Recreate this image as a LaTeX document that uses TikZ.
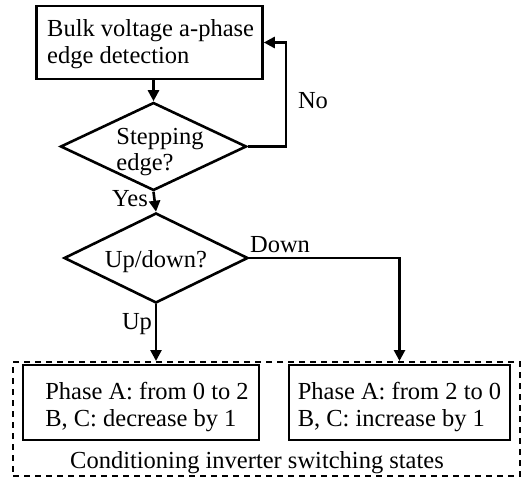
\documentclass[tikz,border=0pt]{standalone}
\usepackage{fontspec}
\setmainfont{Liberation Serif}
\usetikzlibrary{arrows.meta,shapes.geometric}
\begin{document}
\begin{tikzpicture}[x=1pt,y=-1pt,
  every node/.style={font=\fontsize{24.5}{26.5}\selectfont, inner sep=0pt},
  stepbox/.style={draw, line width=2.6pt, rectangle},
  dia/.style={draw, line width=2.6pt, diamond, minimum width=186pt, minimum height=88pt},
  arr/.style={line width=2.6pt, -{Triangle[length=11pt,width=11pt]}},
  lbl/.style={anchor=center}]
\useasboundingbox (0,0) rectangle (524,481);
% top box
\node[stepbox, minimum width=226pt, minimum height=73pt] (top) at (149.5,42.5) {};
\node[align=left, anchor=west] (toptxt) at (47,44) {Bulk voltage a-phase\\edge detection};
% diamond 1
\node[dia] (d1) at (153.5,146.5) {};
\node[align=left] (d1txt) at (160,152) {Stepping\\edge?};
% diamond 2
\node[dia, minimum width=184pt, minimum height=90pt] (d2) at (156,258) {};
\node (d2txt) at (156,262) {Up/down?};
% outer dashed box
\node[draw, dashed, dash pattern=on 6pt off 5pt, line width=2pt, minimum width=507pt, minimum height=114pt] (outer) at (266.5,419) {};
% inner boxes
\node[stepbox, minimum width=236pt, minimum height=75pt] (lbox) at (141,402.5) {};
\node[align=left] (ltxt) at (147,407) {Phase A: from 0 to 2\\B, C: decrease by 1};
\node[stepbox, minimum width=221pt, minimum height=75pt] (rbox) at (399.5,402.5) {};
\node[align=left] (rtxt) at (399.5,407) {Phase A: from 2 to 0\\B, C: increase by 1};
\node (cond) at (257,463) {Conditioning inverter switching states};
% connectors
\draw[arr] (top.south -| d1.north) -- (d1.north);
\draw[arr] (d1.east) -- ++(38,0) |- (top.east);
\node (no) at (313,101) {No};
\draw[arr] (d1.south) -- (d2.north);
\node (yes) at (130,199) {Yes};
\draw[arr] (d2.south) -- (d2.south |- outer.north);
\node (up) at (137,324) {Up};
\draw[arr] (d2.east) -| (rbox.north |- outer.north);
\node (down) at (280,245) {Down};
\end{tikzpicture}
\end{document}
